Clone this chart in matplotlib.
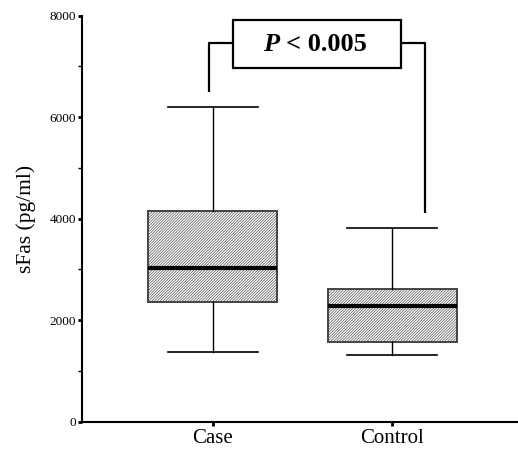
import matplotlib.pyplot as plt
from matplotlib.patches import Rectangle

plt.rcParams['font.family'] = ['Liberation Serif', 'DejaVu Serif']
plt.rcParams['hatch.linewidth'] = 0.45
plt.rcParams['hatch.color'] = '#8a8a8a'

# Box statistics (pg/ml)
groups = ['Case', 'Control']
whisker_low = [1370, 1310]
q1 = [2365, 1570]
median = [3020, 2280]
q3 = [4160, 2610]
whisker_high = [6200, 3820]

# significance bracket
bracket_left_y = 6490
bracket_right_y = 4120
bracket_top_y = 7456

stats = []
for i, g in enumerate(groups):
    stats.append(dict(label=g, whislo=whisker_low[i], q1=q1[i], med=median[i],
                      q3=q3[i], whishi=whisker_high[i], fliers=[]))

fig = plt.figure(figsize=(5.18, 4.5), dpi=100)
ax = fig.add_axes([0.158, 0.063, 0.842, 0.902])

bp = ax.bxp(stats, positions=[1, 2], widths=0.72, capwidths=0.5,
            patch_artist=True, showfliers=False,
            boxprops=dict(facecolor='white', edgecolor='#444444', linewidth=1.4,
                          hatch='/' * 12),
            medianprops=dict(color='black', linewidth=3),
            whiskerprops=dict(color='black', linewidth=1.0),
            capprops=dict(color='black', linewidth=1.2))

# bracket with p-value
lw = 1.6
ax.plot([0.978, 0.978, 1.11], [bracket_left_y, bracket_top_y, bracket_top_y],
        color='black', lw=lw, clip_on=False, solid_capstyle='butt')
ax.plot([2.049, 2.183, 2.183], [bracket_top_y, bracket_top_y, bracket_right_y],
        color='black', lw=lw, clip_on=False, solid_capstyle='butt')
ax.add_patch(Rectangle((1.11, 6963), 2.049 - 1.11, 7909 - 6963, facecolor='white',
                       edgecolor='black', lw=lw, clip_on=False))
ax.text(1.279, 7436, 'P', fontsize=19, fontweight='bold', fontstyle='italic',
        ha='left', va='center')
ax.text(1.41, 7436, '< 0.005', fontsize=19, fontweight='bold', ha='left', va='center')

ax.set_xlim(0.27, 2.70)
ax.set_ylim(0, 8000)
ax.set_yticks([0, 2000, 4000, 6000, 8000])
ax.set_yticks([1000, 3000, 5000, 7000], minor=True)
ax.set_xticks([1, 2])
ax.set_xticklabels(groups, fontsize=15)
ax.tick_params(axis='y', labelsize=9.5, length=3, width=2, pad=1)
ax.tick_params(axis='y', which='minor', length=3, width=1)
ax.tick_params(axis='x', length=3, width=2, pad=2)
ax.set_ylabel('sFas (pg/ml)', fontsize=15.5, labelpad=10)

ax.spines['top'].set_visible(False)
ax.spines['right'].set_visible(False)
ax.spines['left'].set_linewidth(1.5)
ax.spines['bottom'].set_linewidth(1.5)

plt.savefig('out.png', dpi=100)
